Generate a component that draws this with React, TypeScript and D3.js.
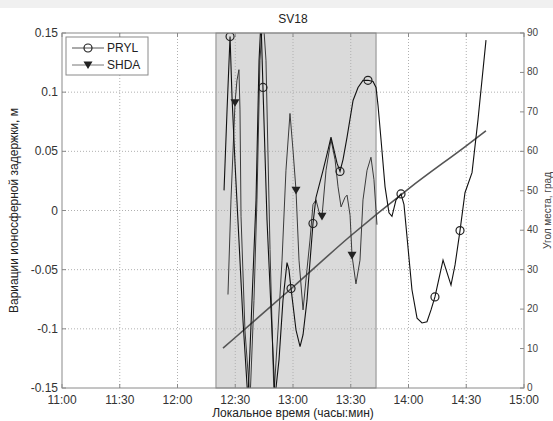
import React from "react";
import * as d3 from "d3";

// ---- data (time in decimal hours, local time) ----
const xTickValues = [11, 11.5, 12, 12.5, 13, 13.5, 14, 14.5, 15];
const xTickLabels = ["11:00", "11:30", "12:00", "12:30", "13:00", "13:30", "14:00", "14:30", "15:00"];
const yTickValues = [-0.15, -0.1, -0.05, 0, 0.05, 0.1, 0.15];
const yTickLabels = ["-0.15", "-0.1", "-0.05", "0", "0.05", "0.1", "0.15"];
const elevTickValues = [0, 10, 20, 30, 40, 50, 60, 70, 80, 90];

const shadeRange = [12.333, 13.719];

const prylTime = [12.403, 12.429, 12.455, 12.472, 12.498, 12.532, 12.567, 12.61, 12.645, 12.68, 12.706, 12.723, 12.74, 12.775, 12.81, 12.844, 12.879, 12.913, 12.948, 12.965, 12.983, 13.026, 13.061, 13.087, 13.121, 13.173, 13.199, 13.26, 13.303, 13.329, 13.355, 13.381, 13.407, 13.433, 13.468, 13.52, 13.563, 13.606, 13.649, 13.693, 13.719, 13.736, 13.762, 13.797, 13.831, 13.857, 13.892, 13.935, 13.961, 14.03, 14.074, 14.117, 14.16, 14.195, 14.229, 14.299, 14.368, 14.403, 14.446, 14.489, 14.55, 14.602, 14.671];
const prylValue = [0.017, 0.085, 0.147, 0.096, 0.04, -0.025, -0.093, -0.16, -0.076, 0.009, 0.127, 0.161, 0.104, -0.008, -0.084, -0.158, -0.126, -0.076, -0.044, -0.05, -0.066, -0.101, -0.115, -0.105, -0.076, -0.011, 0.011, 0.034, 0.051, 0.062, 0.051, 0.04, 0.033, 0.043, 0.062, 0.093, 0.104, 0.11, 0.11, 0.109, 0.104, 0.089, 0.06, 0.02, -0.002, -0.005, 0.009, 0.014, 0.005, -0.067, -0.091, -0.095, -0.094, -0.084, -0.073, -0.042, -0.063, -0.046, -0.017, 0.015, 0.032, 0.077, 0.144];
const prylMarkerIdx = [2, 12, 20, 25, 32, 38, 47, 54, 58];

const shdaTime = [12.437, 12.463, 12.481, 12.498, 12.515, 12.532, 12.541, 12.55, 12.584, 12.628, 12.662, 12.688, 12.714, 12.74, 12.766, 12.801, 12.835, 12.87, 12.905, 12.939, 12.974, 13.0, 13.026, 13.052, 13.087, 13.121, 13.147, 13.173, 13.199, 13.225, 13.251, 13.286, 13.329, 13.364, 13.39, 13.416, 13.45, 13.468, 13.494, 13.511, 13.545, 13.58, 13.606, 13.641, 13.675, 13.701, 13.727];
const shdaValue = [-0.071, 0.009, 0.051, 0.091, 0.11, 0.119, 0.085, -0.005, -0.101, -0.16, -0.076, 0.009, 0.127, 0.165, 0.127, -0.033, -0.156, -0.101, -0.042, 0.034, 0.082, 0.051, 0.017, -0.042, -0.084, -0.05, -0.025, 0.005, 0.009, -0.001, -0.005, 0.034, 0.06, 0.043, 0.02, 0.003, 0.011, 0.013, -0.004, -0.038, -0.062, -0.042, 0.009, 0.034, 0.045, 0.026, -0.012];
const shdaMarkerIdx = [3, 22, 30, 39];

const elevTime = [12.394, 12.5, 13.0, 13.5, 14.0, 14.5, 14.671];
const elevDeg = [10.1, 12.8, 25.6, 38.6, 50.5, 61.4, 65.2];

const seriesNames = ["PRYL", "SHDA"];

// ---- layout ----
const W = 553, H = 421;
const L = 62, R = 524, T = 33, B = 388;

export default function App() {
  const x = d3.scaleLinear().domain([11, 15]).range([L, R]);
  const y = d3.scaleLinear().domain([-0.15, 0.15]).range([B, T]);
  const yR = d3.scaleLinear().domain([0, 90]).range([B, T]);

  const line = d3.line<[number, number]>().x(d => x(d[0])).y(d => y(d[1]));
  const prylPts: [number, number][] = prylTime.map((t, i) => [t, prylValue[i]]);
  const shdaPts: [number, number][] = shdaTime.map((t, i) => [t, shdaValue[i]]);
  const elevLine = d3.line<[number, number]>().x(d => x(d[0])).y(d => yR(d[1])).curve(d3.curveMonotoneX);
  const elevPts: [number, number][] = elevTime.map((t, i) => [t, elevDeg[i]]);

  const font = "'Liberation Sans', Arial, sans-serif";
  const tri = (cx: number, cy: number, s = 4.5) =>
    `M${cx - s},${cy - s * 0.8}L${cx + s},${cy - s * 0.8}L${cx},${cy + s * 0.9}Z`;

  return (
    <svg width={W} height={H} style={{ position: "absolute", left: 0, top: 0, background: "#fff" }} fontFamily={font}>
      <rect x={0} y={0} width={W} height={8} fill="#f0f0f0" />
      <defs>
        <clipPath id="plotClip">
          <rect x={L} y={T} width={R - L} height={B - T} />
        </clipPath>
      </defs>
      {/* shaded interval */}
      <rect x={x(shadeRange[0])} y={T} width={x(shadeRange[1]) - x(shadeRange[0])} height={B - T} fill="#dadada" stroke="#8a8a8a" strokeWidth={1} />
      {/* grid */}
      {xTickValues.slice(1, -1).map(v => (
        <line key={"gx" + v} x1={x(v)} x2={x(v)} y1={T} y2={B} stroke="#b0b0b0" strokeDasharray="1,2" strokeWidth={1} />
      ))}
      {yTickValues.slice(1, -1).map(v => (
        <line key={"gy" + v} x1={L} x2={R} y1={y(v)} y2={y(v)} stroke="#b0b0b0" strokeDasharray="1,2" strokeWidth={1} />
      ))}
      {/* data */}
      <g clipPath="url(#plotClip)">
        <path d={elevLine(elevPts) || ""} fill="none" stroke="#555" strokeWidth={1.6} />
        <path d={line(shdaPts) || ""} fill="none" stroke="#3a3a3a" strokeWidth={1} />
        <path d={line(prylPts) || ""} fill="none" stroke="#111" strokeWidth={1.1} />
        {prylMarkerIdx.map(i => (
          <circle key={"pm" + i} cx={x(prylTime[i])} cy={y(prylValue[i])} r={4} fill="none" stroke="#222" strokeWidth={1.2} />
        ))}
        {shdaMarkerIdx.map(i => (
          <path key={"sm" + i} d={tri(x(shdaTime[i]), y(shdaValue[i]))} fill="#222" />
        ))}
      </g>
      {/* axes box */}
      <rect x={L} y={T} width={R - L} height={B - T} fill="none" stroke="#8a8a8a" strokeWidth={1} />
      {/* x ticks */}
      {xTickValues.map((v, i) => (
        <g key={"xt" + v}>
          <line x1={x(v)} x2={x(v)} y1={B} y2={B - 4} stroke="#8a8a8a" />
          <line x1={x(v)} x2={x(v)} y1={T} y2={T + 4} stroke="#8a8a8a" />
          <text x={x(v)} y={B + 16} textAnchor="middle" fontSize={12} fill="#333">{xTickLabels[i]}</text>
        </g>
      ))}
      {/* left y ticks */}
      {yTickValues.map((v, i) => (
        <g key={"yt" + v}>
          <line x1={L} x2={L + 4} y1={y(v)} y2={y(v)} stroke="#8a8a8a" />
          <text x={L - 4} y={y(v) + 4} textAnchor="end" fontSize={12} fill="#333">{yTickLabels[i]}</text>
        </g>
      ))}
      {/* right y ticks */}
      {elevTickValues.map(v => (
        <g key={"rt" + v}>
          <line x1={R} x2={R - 4} y1={yR(v)} y2={yR(v)} stroke="#8a8a8a" />
          <text x={R + 3} y={yR(v) + 3} textAnchor="start" fontSize={10} fill="#444">{v}</text>
        </g>
      ))}
      {/* titles */}
      <text x={(L + R) / 2} y={22.5} textAnchor="middle" fontSize={12} fill="#222">SV18</text>
      <text x={(L + R) / 2} y={417} textAnchor="middle" fontSize={12} fill="#222">Локальное время (часы:мин)</text>
      <text transform={`translate(18,${(T + B) / 2}) rotate(-90)`} textAnchor="middle" fontSize={12} fill="#222">Вариации ионосферной задержки, м</text>
      <text transform={`translate(551,${(T + B) / 2}) rotate(-90)`} textAnchor="middle" fontSize={10} fill="#444">Угол места, град</text>
      {/* legend */}
      <g>
        <rect x={66} y={37} width={82} height={38} fill="#fff" stroke="#8a8a8a" />
        <line x1={72} x2={104} y1={48} y2={48} stroke="#555" />
        <circle cx={88} cy={48} r={4} fill="none" stroke="#222" strokeWidth={1.2} />
        <text x={107} y={52} fontSize={12} fill="#222">{seriesNames[0]}</text>
        <line x1={72} x2={104} y1={65} y2={65} stroke="#777" />
        <path d={tri(88, 65)} fill="#222" />
        <text x={107} y={69} fontSize={12} fill="#222">{seriesNames[1]}</text>
      </g>
    </svg>
  );
}
